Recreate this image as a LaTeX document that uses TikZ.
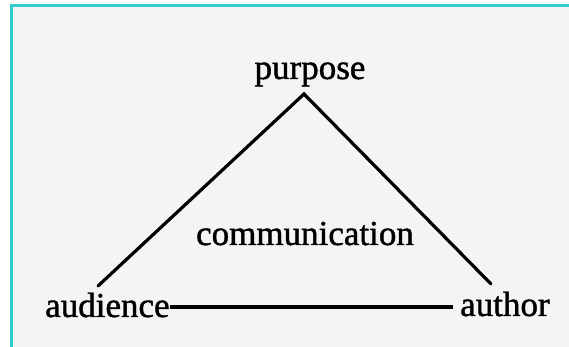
\documentclass[tikz,border=0pt]{standalone}
\usepackage{fontspec}
\setmainfont{Liberation Serif}
\newfontfamily\scanfont{Liberation Serif}[FakeBold=1.2]
\usepackage{xcolor}
\usetikzlibrary{calc}
\definecolor{pagegray}{HTML}{F4F4F2}
\definecolor{framecyan}{HTML}{33CCCC}
\tikzset{
  lbl/.style={inner sep=0pt, font=\scanfont\fontsize{35}{40}\selectfont},
  side/.style={line width=3.2pt, line cap=round}
}
\begin{document}
\begin{tikzpicture}[x=1pt,y=1pt]
    % Page and frame
    \useasboundingbox (0,0) rectangle (569,347);
    \fill[white] (0,0) rectangle (569,347);
    \fill[pagegray] (11,0) rectangle (569,341);
    \draw[framecyan, line width=3pt] (11,-5) -- (11,341) -- (575,341);

    % Labels
    \node[lbl, anchor=base] (purpose) at (310,268) {purpose};
    \node[lbl, anchor=base] (communication) at (305,102) {communication};
    \node[lbl, anchor=base west] (audience) at (45,30) {audience};
    \node[lbl, anchor=base west] (author) at (460,31) {author};

    % Triangle
    \coordinate (apex) at (304,253);
    \coordinate (leftend) at (98,61);
    \coordinate (rightend) at (491,63);
    \coordinate (baseline) at (0,40);
    \draw[side] (leftend) -- (apex) -- (rightend);
    \draw[side, line cap=butt, shorten >=7pt] (audience.east |- baseline) -- (author.west |- baseline);
\end{tikzpicture}
\end{document}
